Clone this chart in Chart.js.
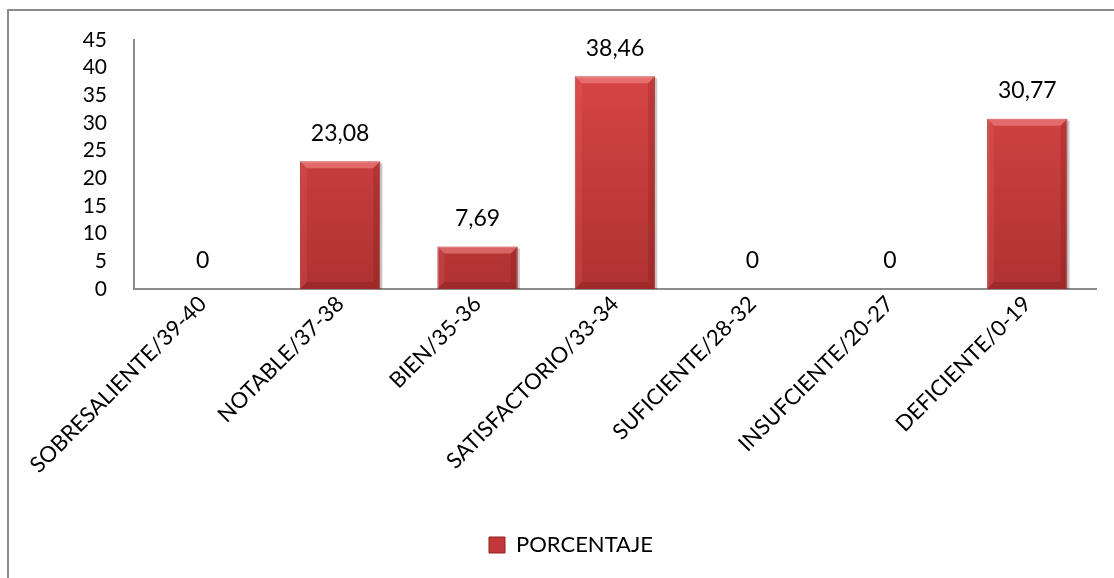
<!DOCTYPE html>
<html>
<head>
<meta charset="utf-8">
<script src="https://cdn.jsdelivr.net/npm/chart.js@4/dist/chart.umd.min.js"></script>
<style>
  html, body { margin: 0; padding: 0; background: #fff; overflow: hidden; }
  #frame {
    position: absolute; left: 7px; top: 9px; width: 1200px; height: 700px;
    border-left: 2px solid #8c8c8c; border-top: 2px solid #8c8c8c;
  }
  #wrap { position: absolute; left: 0; top: 0; width: 1114px; height: 578px; }
</style>
</head>
<body>
<div id="frame"></div>
<div id="wrap"><canvas id="chart"></canvas></div>
<script>
const categories = [
  "SOBRESALIENTE/39-40", "NOTABLE/37-38", "BIEN/35-36", "SATISFACTORIO/33-34",
  "SUFICIENTE/28-32", "INSUFCIENTE/20-27", "DEFICIENTE/0-19"
];
const porcentaje = [0, 23.08, 7.69, 38.46, 0, 0, 30.77];
const seriesName = "PORCENTAJE";

const FONT = "Lato, 'Open Sans', sans-serif";

// vertical red gradient for the bars
function barFill(context) {
  const chart = context.chart;
  const area = chart.chartArea;
  if (!area) return "#c73b3b";
  const g = chart.ctx.createLinearGradient(0, area.top, 0, area.bottom);
  g.addColorStop(0, "#dd4848");
  g.addColorStop(1, "#b03232");
  return g;
}

// bevel look: light top edge, darker right edge
const bevel = {
  id: "bevel",
  afterDatasetsDraw(chart) {
    const ctx = chart.ctx;
    chart.getDatasetMeta(0).data.forEach((bar) => {
      const h = bar.base - bar.y;
      if (h <= 0) return;
      const l = bar.x - bar.width / 2, r = bar.x + bar.width / 2;
      const e = Math.min(7, h / 2);
      ctx.save();
      ctx.fillStyle = "rgba(255,160,160,0.45)";
      ctx.beginPath();
      ctx.moveTo(l, bar.y); ctx.lineTo(r, bar.y);
      ctx.lineTo(r - e, bar.y + e); ctx.lineTo(l + e, bar.y + e);
      ctx.closePath(); ctx.fill();
      ctx.fillStyle = "rgba(255,120,120,0.15)";
      ctx.beginPath();
      ctx.moveTo(l, bar.y); ctx.lineTo(l + e, bar.y + e);
      ctx.lineTo(l + e, bar.base - e); ctx.lineTo(l, bar.base);
      ctx.closePath(); ctx.fill();
      ctx.fillStyle = "rgba(90,10,10,0.18)";
      ctx.beginPath();
      ctx.moveTo(r, bar.y); ctx.lineTo(r - e, bar.y + e);
      ctx.lineTo(r - e, bar.base - e); ctx.lineTo(r, bar.base);
      ctx.closePath(); ctx.fill();
      ctx.fillStyle = "rgba(90,10,10,0.22)";
      ctx.beginPath();
      ctx.moveTo(l, bar.base); ctx.lineTo(l + e, bar.base - e);
      ctx.lineTo(r - e, bar.base - e); ctx.lineTo(r, bar.base);
      ctx.closePath(); ctx.fill();
      ctx.fillStyle = "rgba(0,0,0,0.22)";
      ctx.fillRect(r, bar.y + 2, 2, h - 2);
      ctx.restore();
    });
  }
};

// value labels above each bar, decimal comma
const valueLabels = {
  id: "valueLabels",
  afterDatasetsDraw(chart) {
    const ctx = chart.ctx;
    const ds = chart.data.datasets[0];
    ctx.save();
    ctx.font = "23px " + FONT;
    ctx.fillStyle = "#000";
    ctx.textAlign = "center";
    ctx.textBaseline = "middle";
    chart.getDatasetMeta(0).data.forEach((bar, i) => {
      const txt = String(ds.data[i]).replace(".", ",");
      ctx.fillText(txt, bar.x, bar.y - 28);
    });
    ctx.restore();
  }
};

new Chart(document.getElementById("chart"), {
  type: "bar",
  data: {
    labels: categories,
    datasets: [{
      label: seriesName,
      data: porcentaje,
      backgroundColor: barFill,
      borderColor: "#a83030",
      borderWidth: 1,
      categoryPercentage: 1,
      barPercentage: 0.585,
    }],
  },
  options: {
    responsive: true,
    maintainAspectRatio: false,
    animation: false,
    layout: { padding: { left: 46, right: 18, top: 40, bottom: 12 } },
    plugins: {
      tooltip: { enabled: false },
      legend: {
        position: "bottom",
        labels: {
          color: "#000",
          font: { family: FONT, size: 22 },
          boxWidth: 16,
          boxHeight: 16,
          padding: 8,
          generateLabels: (chart) => [{
            text: seriesName,
            fillStyle: "#c23838",
            strokeStyle: "#8f2222",
            lineWidth: 1,
            datasetIndex: 0,
          }],
        },
      },
    },
    scales: {
      x: {
        grid: { display: false, drawTicks: false },
        border: { display: true, color: "#8c8c8c", width: 2 },
        ticks: {
          color: "#000",
          font: { family: FONT, size: 22 },
          maxRotation: 45,
          minRotation: 45,
          autoSkip: false,
          padding: 2,
        },
        afterFit: (s) => { s.height = 237; },
      },
      y: {
        min: 0,
        max: 45,
        grid: { display: false, drawTicks: false },
        border: { display: true, color: "#8c8c8c", width: 2 },
        ticks: {
          stepSize: 5,
          autoSkip: false,
          color: "#000",
          font: { family: FONT, size: 21 },
          padding: 27,
        },
        afterFit: (s) => { s.width = 88; },
      },
    },
  },
  plugins: [bevel, valueLabels],
});
</script>
</body>
</html>
